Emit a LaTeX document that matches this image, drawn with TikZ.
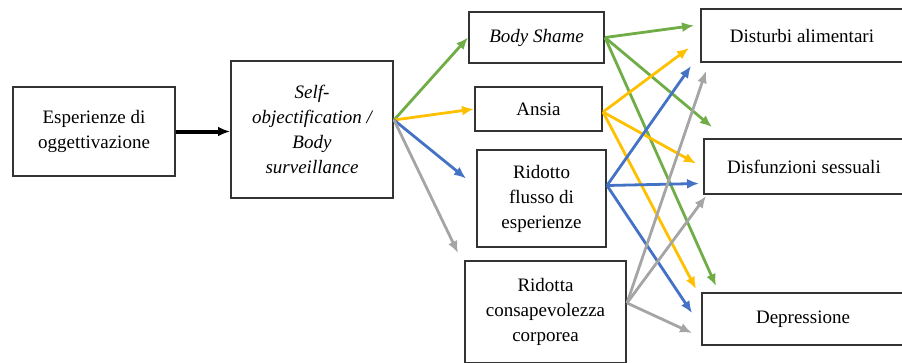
\documentclass[tikz,border=0pt]{standalone}
\usepackage{fontspec}
\setmainfont{Liberation Serif}
\usepackage{tikz}
\usetikzlibrary{arrows.meta,positioning}

\definecolor{ogreen}{RGB}{112,173,71}
\definecolor{oyellow}{RGB}{255,192,0}
\definecolor{oblue}{RGB}{68,114,196}
\definecolor{ogrey}{RGB}{165,165,165}

\begin{document}
\begin{tikzpicture}[x=1pt, y=-1pt]
		\tikzstyle{Box}		= [draw=black!80, line width=2pt, fill=white, inner sep=0pt, align=center, font=\fontsize{19}{25}\selectfont]
		\tikzstyle{Tip}		= [-{Latex[length=12pt, width=10pt]}]
		\tikzstyle{Main}	= [Tip, line width=4pt, black]
		\tikzstyle{GR}		= [Tip, line width=2.8pt, ogreen]
		\tikzstyle{YE}		= [Tip, line width=2.8pt, oyellow]
		\tikzstyle{BL}		= [Tip, line width=2.8pt, oblue]
		\tikzstyle{GY}		= [Tip, line width=2.8pt, ogrey]
		
		\useasboundingbox (0,0) rectangle (902,362);
		
		\node (eo) at (94.0, 131.5) [Box, minimum width=162pt, minimum height=89pt] {Esperienze di\\oggettivazione};
		\node (so) at (312.0, 129.5) [Box, minimum width=162pt, minimum height=137pt] {\itshape Self-\\\itshape objectification /\\\itshape Body\\\itshape surveillance};
		\node (bs) at (536.5, 37.5) [Box, minimum width=135pt, minimum height=51pt] {\itshape Body Shame};
		\node (an) at (538.5, 109.0) [Box, minimum width=127pt, minimum height=44pt] {Ansia};
		\node (rf) at (541.5, 198.5) [Box, minimum width=129pt, minimum height=97pt] {Ridotto\\flusso di\\esperienze};
		\node (rc) at (545.5, 312.0) [Box, minimum width=161pt, minimum height=102pt] {Ridotta\\consapevolezza\\corporea};
		\node (da) at (802.0, 35.5) [Box, minimum width=202pt, minimum height=53pt] {Disturbi alimentari};
		\node (ds) at (804.0, 166.5) [Box, minimum width=200pt, minimum height=55pt] {Disfunzioni sessuali};
		\node (de) at (803.0, 319.0) [Box, minimum width=202pt, minimum height=52pt] {Depressione};
		
		\draw (eo.east) to (eo.east -| so.west) [Main];
		
		\draw (so.east) ++(0,-9.5) coordinate (fan);
		\draw (fan) to (bs.west) [GR];
		\draw (fan) to (an.west) [YE];
		\draw (fan) to ([shift={(-10,-20)}]rf.west) [BL];
		\draw (fan) to ([shift={(-6,-7)}]rc.north west) [GY];
		
		\draw (bs.east) to ([shift={(-6,-10)}]da.west) [GR];
		\draw (bs.east) to ([shift={(9,-11)}]ds.north west) [GR];
		\draw (bs.east) to ([shift={(15,-6)}]de.north west) [GR];
		
		\draw ([shift={(0,3)}]an.east) to ([shift={(-11,-15)}]da.south west) [YE];
		\draw ([shift={(0,3)}]an.east) to ([shift={(-7,-3)}]ds.west) [YE];
		\draw ([shift={(0,3)}]an.east) to ([shift={(-5,-3)}]de.north west) [YE];
		
		\draw ([shift={(0,-13)}]rf.east) to ([shift={(-9,3)}]da.south west) [BL];
		\draw ([shift={(0,-13)}]rf.east) to ([shift={(-4,17)}]ds.west) [BL];
		\draw ([shift={(0,-13)}]rf.east) to ([shift={(-9,-6)}]de.west) [BL];
		
		\draw ([shift={(0,-9)}]rc.east) to ([shift={(6,8)}]da.south west) [GY];
		\draw ([shift={(0,-9)}]rc.east) to ([shift={(3,1)}]ds.south west) [GY];
		\draw ([shift={(0,-9)}]rc.east) to ([shift={(-9,14)}]de.west) [GY];
	\end{tikzpicture}
\end{document}
